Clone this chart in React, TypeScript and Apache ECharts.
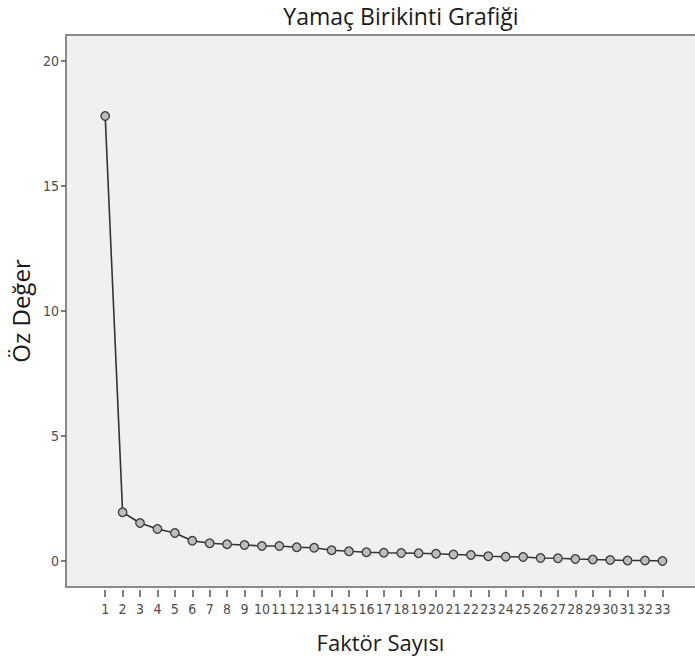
import React, { useEffect, useRef } from "react";
import * as echarts from "echarts";

const title = "Yamaç Birikinti Grafiği";
const xTitle = "Faktör Sayısı";
const yTitle = "Öz Değer";
const factors = [1,2,3,4,5,6,7,8,9,10,11,12,13,14,15,16,17,18,19,20,21,22,23,24,25,26,27,28,29,30,31,32,33];
const eigenvalues = [17.8,1.95,1.52,1.28,1.12,0.81,0.71,0.67,0.64,0.6,0.6,0.55,0.53,0.43,0.39,0.35,0.33,0.32,0.31,0.29,0.26,0.24,0.19,0.17,0.16,0.12,0.11,0.08,0.06,0.04,0.02,0.02,0.0];
const yTicks = [0, 5, 10, 15, 20];

export default function App() {
  const ref = useRef<HTMLDivElement>(null);
  useEffect(() => {
    document.body.style.margin = "0";
    const chart = echarts.init(ref.current!, null, { renderer: "svg" });
    const labelFont = "'Liberation Sans Narrow', 'DejaVu Sans Condensed', sans-serif";
    const titleFont = "'Open Sans', sans-serif";
    const xMin = -1.25;
    const xMax = 34.87;
    const border = { show: true, onZero: false, lineStyle: { color: "#8a8a8a", width: 2 } };
    chart.setOption({
      animation: false,
      backgroundColor: "#ffffff",
      title: {
        text: title,
        left: 396,
        top: -1,
        textAlign: "center",
        textStyle: { fontFamily: titleFont, fontSize: 23, fontWeight: "normal", color: "#1a1a1a" },
      },
      grid: {
        left: 64,
        top: 35,
        right: 0,
        bottom: 76,
        show: true,
        backgroundColor: "#f0f0f0",
        borderWidth: 0,
      },
      xAxis: [
        {
          type: "value",
          min: xMin,
          max: xMax,
          offset: 3,
          position: "bottom",
          name: xTitle,
          nameLocation: "middle",
          nameGap: 41,
          nameTextStyle: { fontFamily: titleFont, fontSize: 22, color: "#1a1a1a" },
          axisLine: { show: false, onZero: false },
          splitLine: { show: false },
          axisTick: { show: true, length: 7, customValues: factors, lineStyle: { color: "#555", width: 1.5 } },
          axisLabel: {
            customValues: factors,
            margin: 12,
            fontFamily: labelFont,
            fontSize: 14,
            color: "#4d4d4d",
            formatter: (v: number) => String(v),
          },
        },
        {
          type: "value",
          min: xMin,
          max: xMax,
          position: "bottom",
          offset: 0,
          axisLine: border,
          axisTick: { show: false },
          axisLabel: { show: false },
          splitLine: { show: false },
        },
        {
          type: "value",
          min: xMin,
          max: xMax,
          position: "top",
          axisLine: border,
          axisTick: { show: false },
          axisLabel: { show: false },
          splitLine: { show: false },
        },
      ],
      yAxis: {
        type: "value",
        min: -1.04,
        max: 21.04,
        name: yTitle,
        nameLocation: "middle",
        nameGap: 34,
        nameRotate: 90,
        nameTextStyle: { fontFamily: titleFont, fontSize: 24, color: "#1a1a1a" },
        axisLine: border,
        splitLine: { show: false },
        axisTick: { show: true, length: 5, customValues: yTicks, lineStyle: { color: "#555", width: 1.5 } },
        axisLabel: {
          customValues: yTicks,
          margin: 7,
          fontFamily: labelFont,
          fontSize: 14,
          color: "#4d4d4d",
          formatter: (v: number) => String(v),
        },
      },
      series: [
        {
          type: "line",
          xAxisIndex: 0,
          data: factors.map((f, i) => [f, eigenvalues[i]]),
          symbol: "circle",
          symbolSize: 8.5,
          lineStyle: { color: "#333333", width: 1.6 },
          itemStyle: { color: "#bcbcbc", borderColor: "#3a3a3a", borderWidth: 1.3 },
        },
      ],
    });
    return () => chart.dispose();
  }, []);
  return <div ref={ref} style={{ width: 695, height: 663 }} />;
}
